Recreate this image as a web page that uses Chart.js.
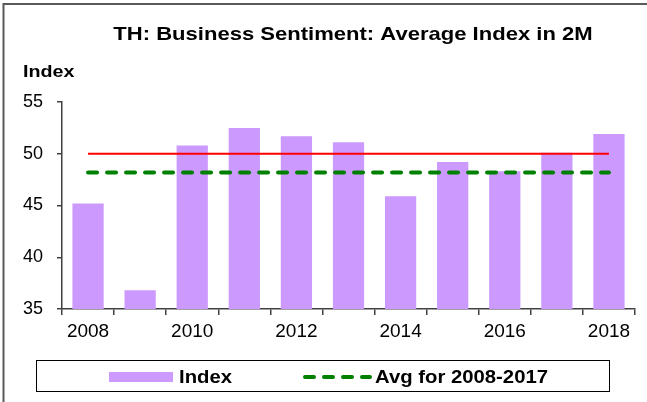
<!DOCTYPE html>
<html>
<head>
<meta charset="utf-8">
<script src="https://cdn.jsdelivr.net/npm/chart.js@4/dist/chart.umd.min.js"></script>
<style>
  html, body { margin: 0; padding: 0; background: #ffffff; }
  #wrap { position: relative; width: 647px; height: 402px; }
</style>
</head>
<body>
<div id="wrap"><canvas id="c" width="647" height="402"></canvas></div>
<script>
// ---- data ----
const categories = ['2008','2009','2010','2011','2012','2013','2014','2015','2016','2017','2018'];
const indexValues = [45.2, 36.8, 50.8, 52.5, 51.7, 51.1, 45.9, 49.2, 48.3, 50.1, 51.9];
const thresholdValues = [50, 50, 50, 50, 50, 50, 50, 50, 50, 50, 50];
const avgValues = [48.2, 48.2, 48.2, 48.2, 48.2, 48.2, 48.2, 48.2, 48.2, 48.2, 48.2];
const yTickValues = [35, 40, 45, 50, 55];
const titleText = 'TH: Business Sentiment: Average Index in 2M';
const yAxisTitle = 'Index';
const legendIndexLabel = 'Index';
const legendAvgLabel = 'Avg for 2008-2017';

const FONT = '"Liberation Sans", Arial, Helvetica, sans-serif';
const STRETCH = 1.16;

function stretchedText(ctx, text, x, y, font, align) {
  ctx.save();
  ctx.font = font;
  ctx.fillStyle = '#000';
  ctx.textBaseline = 'alphabetic';
  ctx.textAlign = 'left';
  const w = ctx.measureText(text).width * STRETCH;
  let sx = x;
  if (align === 'center') sx = x - w / 2;
  ctx.translate(sx, y);
  ctx.scale(STRETCH, 1);
  ctx.fillText(text, 0, 0);
  ctx.restore();
}

const decorPlugin = {
  id: 'decor',
  afterDraw(chart) {
    const ctx = chart.ctx;
    // frame (top & left)
    ctx.save();
    ctx.strokeStyle = '#5a5a5a';
    ctx.lineWidth = 2;
    ctx.beginPath();
    ctx.moveTo(3.5, 402);
    ctx.lineTo(3.5, 4);
    ctx.lineTo(647, 4);
    ctx.stroke();
    ctx.restore();

    // title
    stretchedText(ctx, titleText, 353, 40, 'bold 19px ' + FONT, 'center');
    // y axis title
    stretchedText(ctx, yAxisTitle, 23, 76.5, 'bold 17px ' + FONT, 'left');

    // legend box
    ctx.save();
    ctx.strokeStyle = '#000';
    ctx.lineWidth = 1;
    ctx.strokeRect(36.5, 360.5, 573, 31);
    // index swatch
    ctx.fillStyle = chart.data.datasets[0].backgroundColor;
    ctx.fillRect(109, 372, 64, 10);
    // avg dashed sample
    const g = chart.data.datasets[2];
    ctx.strokeStyle = g.borderColor;
    ctx.lineWidth = g.borderWidth;
    ctx.lineCap = 'round';
    ctx.setLineDash(g.borderDash);
    ctx.beginPath();
    ctx.moveTo(305, 377);
    ctx.lineTo(370, 377);
    ctx.stroke();
    ctx.restore();
    stretchedText(ctx, legendIndexLabel, 179, 382.5, 'bold 17.5px ' + FONT, 'left');
    stretchedText(ctx, legendAvgLabel, 375, 382.5, 'bold 17.5px ' + FONT, 'left');
  }
};

const axisColor = '#404040';

new Chart(document.getElementById('c'), {
  type: 'bar',
  data: {
    labels: categories,
    datasets: [
      {
        label: legendIndexLabel,
        data: indexValues,
        backgroundColor: '#cc99ff',
        borderWidth: 0,
        barPercentage: 0.6,
        categoryPercentage: 1.0,
        order: 3
      },
      {
        type: 'line',
        label: 'Threshold',
        data: thresholdValues,
        borderColor: '#ff0000',
        borderWidth: 2,
        pointRadius: 0,
        fill: false,
        order: 2
      },
      {
        type: 'line',
        label: legendAvgLabel,
        data: avgValues,
        borderColor: '#008000',
        borderWidth: 4,
        borderDash: [9, 10],
        borderCapStyle: 'round',
        pointRadius: 0,
        fill: false,
        order: 1
      }
    ]
  },
  options: {
    responsive: false,
    animation: false,
    events: [],
    layout: { padding: { left: 0, top: 102, right: 12, bottom: 0 } },
    plugins: {
      legend: { display: false },
      title: { display: false },
      tooltip: { enabled: false }
    },
    scales: {
      x: {
        offset: true,
        grid: {
          offset: true,
          drawOnChartArea: false,
          drawTicks: true,
          tickLength: 6,
          color: axisColor,
          lineWidth: 1.5
        },
        border: { display: true, color: axisColor, width: 1.5 },
        ticks: {
          autoSkip: false,
          maxRotation: 0,
          minRotation: 0,
          padding: 5,
          color: '#000',
          font: { family: FONT, size: 19 },
          callback: function (v, i) { return i % 2 === 0 ? categories[i] : ''; }
        },
        afterFit: function (s) { s.height = 93; }
      },
      y: {
        min: yTickValues[0],
        max: yTickValues[yTickValues.length - 1],
        afterBuildTicks: function (s) { s.ticks = yTickValues.map(v => ({ value: v })); },
        grid: {
          drawOnChartArea: false,
          drawTicks: true,
          tickLength: 5,
          color: axisColor,
          lineWidth: 1.5
        },
        border: { display: true, color: axisColor, width: 1.5 },
        ticks: {
          padding: 14,
          color: '#000',
          font: { family: FONT, size: 18 }
        },
        afterFit: function (s) { s.width = 62; }
      }
    }
  },
  plugins: [decorPlugin]
});
</script>
</body>
</html>
